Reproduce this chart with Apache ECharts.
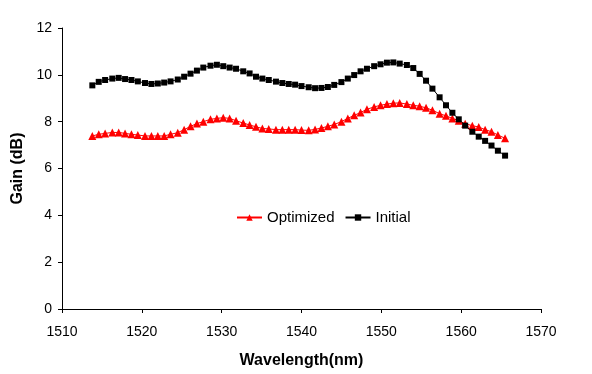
<!DOCTYPE html>
<html>
<head>
<meta charset="utf-8">
<script src="https://cdn.jsdelivr.net/npm/echarts@6/dist/echarts.min.js"></script>
<style>
html,body{margin:0;padding:0;background:#fff;}
#chart{width:592px;height:374px;}
</style>
</head>
<body>
<div id="chart"></div>
<script>
const wavelengths = [1513.8,1514.6,1515.4,1516.3,1517.1,1517.9,1518.7,1519.5,1520.4,1521.2,1522.0,1522.8,1523.6,1524.5,1525.3,1526.1,
1526.9,1527.7,1528.6,1529.4,1530.2,1531.0,1531.8,1532.7,1533.5,1534.3,1535.1,1535.9,1536.8,1537.6,1538.4,1539.2,
1540.0,1540.9,1541.7,1542.5,1543.3,1544.1,1545.0,1545.8,1546.6,1547.4,1548.2,1549.1,1549.9,1550.7,1551.5,1552.3,
1553.2,1554.0,1554.8,1555.6,1556.4,1557.3,1558.1,1558.9,1559.7,1560.5,1561.4,1562.2,1563.0,1563.8,1564.6,1565.5];
const initialGain = [9.55,9.70,9.78,9.84,9.87,9.82,9.78,9.72,9.65,9.61,9.63,9.67,9.72,9.80,9.92,10.05,
10.18,10.31,10.39,10.43,10.37,10.31,10.26,10.15,10.06,9.92,9.84,9.78,9.71,9.65,9.61,9.58,
9.52,9.47,9.43,9.44,9.48,9.57,9.69,9.84,9.99,10.15,10.26,10.37,10.45,10.52,10.53,10.48,
10.42,10.29,10.04,9.75,9.41,9.04,8.70,8.38,8.10,7.83,7.57,7.36,7.18,6.98,6.76,6.55];
const optimizedGain = [7.39,7.46,7.50,7.54,7.54,7.50,7.46,7.43,7.39,7.39,7.39,7.39,7.46,7.53,7.66,7.80,
7.92,8.00,8.10,8.14,8.17,8.14,8.04,7.94,7.86,7.78,7.71,7.69,7.66,7.66,7.66,7.66,
7.64,7.63,7.67,7.73,7.80,7.88,8.00,8.14,8.27,8.39,8.53,8.63,8.70,8.75,8.79,8.80,
8.75,8.70,8.66,8.59,8.49,8.34,8.25,8.14,8.04,7.91,7.83,7.77,7.66,7.57,7.43,7.29];
const xTicks = {min:1510, max:1570, interval:10};
const yTicks = {min:0, max:12, interval:2};

const font = 'Liberation Sans, Arial, sans-serif';
const chart = echarts.init(document.getElementById('chart'));
chart.setOption({
  animation:false,
  backgroundColor:'#fff',
  textStyle:{fontFamily:font},
  grid:{left:62, right:51, top:28, bottom:64},
  legend:{
    left:231, top:205, itemWidth:25, itemHeight:8, itemGap:10,
    textStyle:{fontFamily:font, fontSize:15, color:'#000'},
    data:['Optimized','Initial']
  },
  xAxis:{
    type:'value', min:xTicks.min, max:xTicks.max, interval:xTicks.interval,
    name:'Wavelength(nm)', nameLocation:'middle', nameGap:44,
    nameTextStyle:{fontFamily:font, fontSize:16, fontWeight:'bold', color:'#000'},
    axisLine:{lineStyle:{color:'#000', width:1}},
    axisTick:{show:true, length:4, lineStyle:{color:'#000'}},
    axisLabel:{fontFamily:font, fontSize:14, color:'#000', margin:16, formatter:v=>String(v)},
    splitLine:{show:false}
  },
  yAxis:{
    type:'value', min:yTicks.min, max:yTicks.max, interval:yTicks.interval,
    name:'Gain (dB)', nameLocation:'middle', nameGap:36, nameRotate:90,
    nameTextStyle:{fontFamily:font, fontSize:16, fontWeight:'bold', color:'#000'},
    axisLine:{show:true, lineStyle:{color:'#000', width:1}},
    axisTick:{show:true, length:4, lineStyle:{color:'#000'}},
    axisLabel:{fontFamily:font, fontSize:14, color:'#000', margin:10},
    splitLine:{show:false}
  },
  series:[
    {
      name:'Optimized', type:'line',
      data:wavelengths.map((w,i)=>[w, optimizedGain[i]]),
      symbol:'triangle', symbolSize:8, showSymbol:true,
      lineStyle:{color:'#ff0000', width:1},
      itemStyle:{color:'#ff0000'}
    },
    {
      name:'Initial', type:'line',
      data:wavelengths.map((w,i)=>[w, initialGain[i]]),
      symbol:'rect', symbolSize:6, showSymbol:true,
      lineStyle:{color:'#000', width:1},
      itemStyle:{color:'#000'}
    }
  ]
});
</script>
</body>
</html>
